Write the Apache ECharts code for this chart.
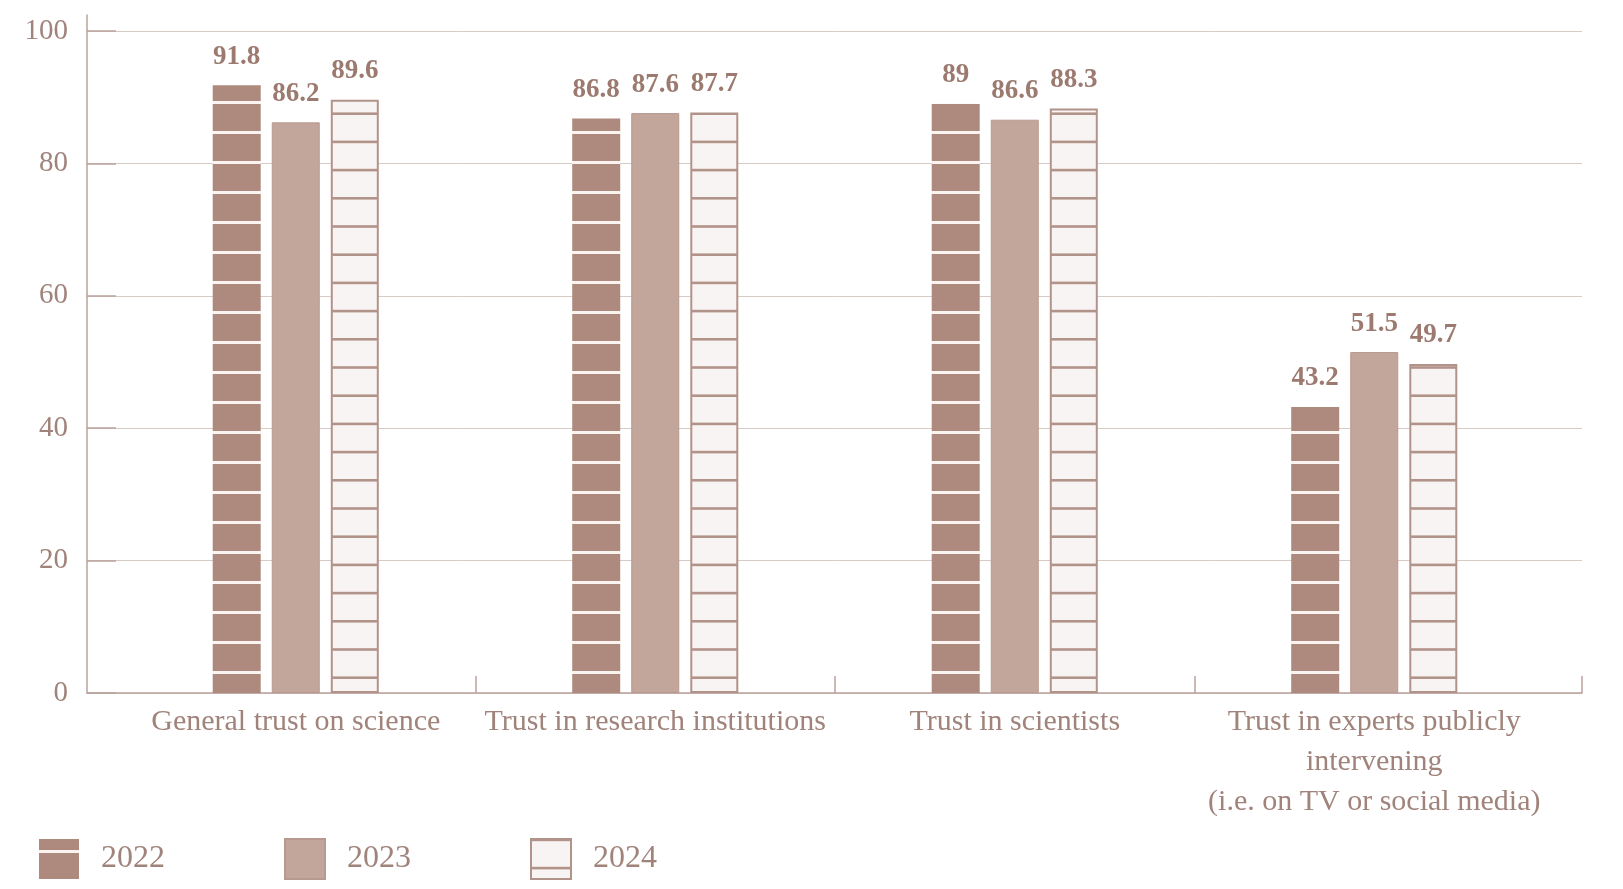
<!DOCTYPE html>
<html>
<head>
<meta charset="utf-8">
<script src="https://cdn.jsdelivr.net/npm/echarts@6/dist/echarts.min.js"></script>
<style>
html,body{margin:0;padding:0;background:#fff;}
#chart{width:1623px;height:889px;}
</style>
</head>
<body>
<div id="chart"></div>
<script>
// ---- data ----
const categories = [
  'General trust on science',
  'Trust in research institutions',
  'Trust in scientists',
  'Trust in experts publicly\nintervening\n(i.e. on TV or social media)'
];
const years = ['2022', '2023', '2024'];
const values2022 = [91.8, 86.8, 89, 43.2];
const values2023 = [86.2, 87.6, 86.6, 51.5];
const values2024 = [89.6, 87.7, 88.3, 49.7];
const yTicks = [0, 20, 40, 60, 80, 100];

// ---- layout / style ----
const FONT = '"Liberation Serif", "DejaVu Serif", serif';
const TEXT = '#a0837a';
const LABEL = '#9c7a70';
const AXIS = '#b9a39d';
const GRIDC = '#d8cac5';
const G0L = 87, G0R = 1582, G1L = 116, G1R = 1554;
const TOP100 = 31, ZERO = 693, AXTOP = 15;
const W = 1623, H = 889;
const catW = (G1R - G1L) / categories.length;
const pxPerUnit = (ZERO - TOP100) / 100;
const yMax0 = 100 + (TOP100 - AXTOP) / pxPerUnit;
const xMin0 = -(G1L - G0L) / catW;
const xMax0 = (G0R - G1L) / catW;

function stripes(h, bg, fg, centers, thick) {
  const c = document.createElement('canvas');
  c.width = 8; c.height = h;
  const g = c.getContext('2d');
  g.fillStyle = bg; g.fillRect(0, 0, 8, h);
  g.fillStyle = fg;
  centers.forEach(function (y) {
    g.fillRect(0, y - thick / 2, 8, thick);
    if (y - thick / 2 < 0) g.fillRect(0, y - thick / 2 + h, 8, thick);
    if (y + thick / 2 > h) g.fillRect(0, y - thick / 2 - h, 8, thick);
  });
  return { image: c, repeat: 'repeat' };
}
const pat2022 = stripes(30, '#ad8a7d', '#fbf3ef', [12.5], 3);
const c2024 = [];
for (let k = 0; k < 10; k++) {
  let y = (677.7 - k * 28.2) % 282;
  if (y < 0) y += 282;
  c2024.push(y);
}
const pat2024 = stripes(282, '#f8f4f3', '#b29389', c2024, 2.6);

const chart = echarts.init(document.getElementById('chart'), null, { renderer: 'canvas' });

const labelCfg = {
  show: true, position: 'top', distance: 15,
  color: LABEL, fontFamily: FONT, fontWeight: 'bold', fontSize: 27
};

chart.setOption({
  animation: false,
  backgroundColor: '#ffffff',
  textStyle: { fontFamily: FONT },
  grid: [
    { left: G0L, right: W - G0R, top: AXTOP, bottom: H - ZERO, containLabel: false },
    { left: G1L, right: W - G1R, top: TOP100, bottom: H - ZERO, containLabel: false }
  ],
  xAxis: [
    {
      gridIndex: 0, type: 'value', min: xMin0, max: xMax0,
      axisLine: { show: true, onZero: false, lineStyle: { color: AXIS, width: 1.5 } },
      axisTick: { show: true, inside: true, length: 17, lineStyle: { color: AXIS, width: 1.5 },
                  customValues: [1, 2, 3, xMax0 - 0.0005] },
      axisLabel: { show: false },
      splitLine: { show: false }
    },
    {
      gridIndex: 1, type: 'category', data: categories,
      axisLine: { show: false }, axisTick: { show: false },
      axisLabel: { interval: 0, color: TEXT, fontFamily: FONT, fontSize: 30, lineHeight: 40, margin: 9 },
      splitLine: { show: false }
    }
  ],
  yAxis: [
    {
      gridIndex: 0, type: 'value', min: 0, max: yMax0,
      axisLine: { show: true, onZero: false, lineStyle: { color: AXIS, width: 1.5 } },
      axisTick: { show: true, inside: true, length: 29, lineStyle: { color: AXIS, width: 1.5 }, customValues: yTicks },
      axisLabel: { color: TEXT, fontFamily: FONT, fontSize: 29, margin: 19, customValues: yTicks },
      splitLine: { show: true, lineStyle: { color: GRIDC, width: 1 } }
    },
    {
      gridIndex: 1, type: 'value', min: 0, max: 100, show: false,
      splitLine: { show: false }
    }
  ],
  legend: {
    left: 39, top: 838, padding: 0, icon: 'rect', itemWidth: 40, itemHeight: 40, itemGap: 119,
    data: years,
    textStyle: { color: TEXT, fontFamily: FONT, fontSize: 32, padding: [12, 0, 0, 17] }
  },
  series: [
    {
      name: years[0], type: 'bar', xAxisIndex: 1, yAxisIndex: 1, data: values2022,
      barWidth: 48, barGap: '23%',
      itemStyle: { color: pat2022, borderColor: '#ad8a7d', borderWidth: 0 },
      label: labelCfg
    },
    {
      name: years[1], type: 'bar', xAxisIndex: 1, yAxisIndex: 1, data: values2023,
      barWidth: 48, barGap: '23%',
      itemStyle: { color: '#c2a59b', borderColor: '#b8998f', borderWidth: 1 },
      label: labelCfg
    },
    {
      name: years[2], type: 'bar', xAxisIndex: 1, yAxisIndex: 1, data: values2024,
      barWidth: 48, barGap: '23%',
      itemStyle: { color: pat2024, borderColor: '#b29389', borderWidth: 2 },
      label: labelCfg
    }
  ]
});
</script>
</body>
</html>
